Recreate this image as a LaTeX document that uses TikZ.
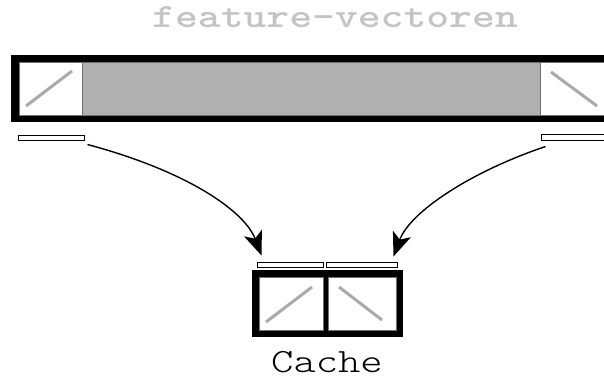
\documentclass[tikz,border=0pt]{standalone}
\usepackage{fontspec}
\newfontfamily\lightmono{Latin Modern Mono Light}
\usetikzlibrary{arrows.meta}
\definecolor{bargray}{HTML}{B0B0B0}
\definecolor{titlegray}{HTML}{C4C4C4}
\definecolor{diaggray}{HTML}{AAAAAA}
\definecolor{edgegray}{HTML}{707070}
\begin{document}
\begin{tikzpicture}[x=1pt,y=-1pt,
  frame/.style={fill=black},
  cell/.style={fill=white,draw=edgegray,line width=0.6pt},
  filler/.style={fill=bargray,draw=edgegray,line width=0.6pt},
  diag/.style={draw=diaggray,line width=3pt},
  slot/.style={draw=black,fill=white,line width=1pt,rectangle,inner sep=0pt},
  arr/.style={-{Stealth[length=24pt,width=19pt,inset=6pt]},line width=1.4pt},
  lbl/.style={inner sep=0pt,anchor=base,font=\lightmono\fontsize{34}{34}\selectfont}
]
\useasboundingbox (0,0) rectangle (604,381);
\clip (0,0) rectangle (604,381);

% title
\node[lbl,text=titlegray,font=\ttfamily\bfseries\fontsize{34}{34}\selectfont,xscale=1.28] (title) at (335,27) {feature-vectoren};

% big bar
\fill[frame] (11,55) rectangle (614,122);
\filldraw[cell] (19,62) rectangle (82,115);
\filldraw[filler] (82,62) rectangle (540,115);
\filldraw[cell] (540,62) rectangle (614,115);
\draw[diag] (26,106) -- (72,71);
\draw[diag] (551,72) -- (597,106);

% slots under bar
\node[slot,minimum width=66pt,minimum height=5pt] (ls) at (51,137.5) {};
\node[slot,minimum width=70pt,minimum height=6pt] (rs) at (576,137) {};

% cache
\fill[frame] (252,270) rectangle (403,337);
\filldraw[cell] (259,277) rectangle (323,330);
\filldraw[cell] (328,277) rectangle (396,330);
\draw[diag] (266,322) -- (312,287);
\draw[diag] (339,287) -- (382,320);
\node[slot,minimum width=66pt,minimum height=5pt] (c1) at (290,264.5) {};
\node[slot,minimum width=71pt,minimum height=5pt] (c2) at (361.5,264.5) {};

\node[lbl,xscale=1.25] (cache) at (327,372) {Cache};

% arrows
\draw[arr] ([shift={(3,4)}]ls.south east) .. controls (190,172) and (245,212) .. ([shift={(5,-6)}]c1.north west);
\draw[arr] ([shift={(5,6)}]rs.south west) .. controls (470,172) and (410,212) .. ([shift={(-4,-5)}]c2.north east);
\end{tikzpicture}
\end{document}
